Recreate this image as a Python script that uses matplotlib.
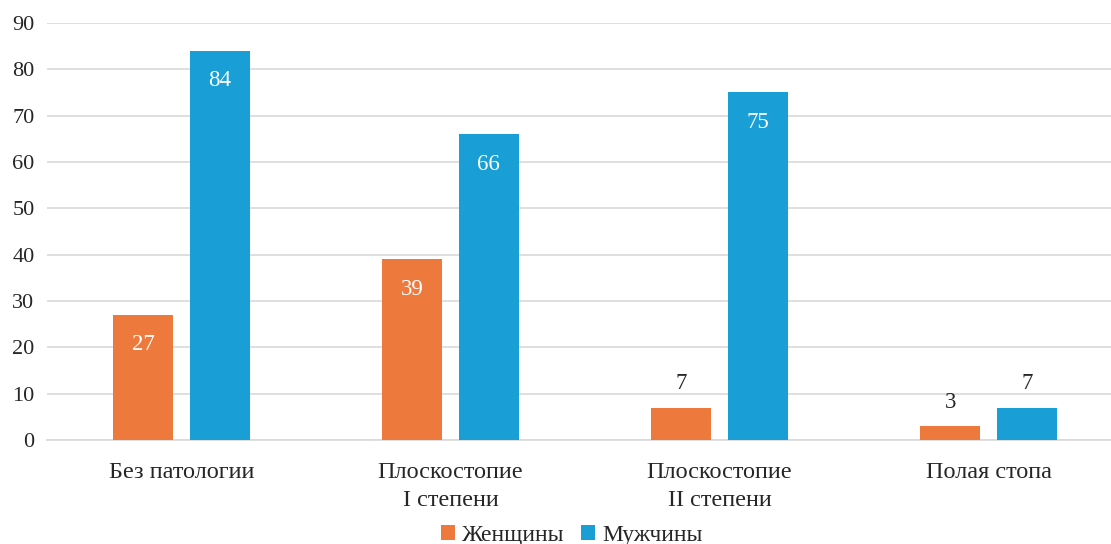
import matplotlib
matplotlib.use("Agg")
import matplotlib.pyplot as plt
import numpy as np

# --- Data ---
categories = ["Без патологии", "Плоскостопие\nI степени", "Плоскостопие\nII степени", "Полая стопа"]
women = [27, 39, 7, 3]
men = [84, 66, 75, 7]
series_names = ["Женщины", "Мужчины"]
colors = ["#ED7A3C", "#199FD6"]

plt.rcParams["font.family"] = ["Liberation Serif", "DejaVu Serif"]

W, H = 1111, 544
fig = plt.figure(figsize=(W / 100, H / 100), dpi=100)
ax = fig.add_axes([47 / W, 104 / H, 1076 / W, 417 / H])

x = np.arange(len(categories))
bw = 0.223
off = 0.142
bars_w = ax.bar(x - off, women, bw, color=colors[0], label=series_names[0], zorder=3)
bars_m = ax.bar(x + off, men, bw, color=colors[1], label=series_names[1], zorder=3)


def label_bars(bars, vals):
    for b, v in zip(bars, vals):
        cx = b.get_x() + b.get_width() / 2
        if v >= 20:
            ax.annotate(str(v), (cx, v), xytext=(0, -30), textcoords="offset pixels",
                        ha="center", va="center", color="white", fontsize=16.5, zorder=4)
        else:
            ax.annotate(str(v), (cx, v), xytext=(0, 24), textcoords="offset pixels",
                        ha="center", va="center", color="#262626", fontsize=16.5, zorder=4)


label_bars(bars_w, women)
label_bars(bars_m, men)

ax.set_xlim(-0.5, len(categories) - 0.5)
ax.set_ylim(0, 90)
ax.set_yticks(range(0, 91, 10))
ax.set_xticks(x)
ax.set_xticklabels(categories, fontsize=17.5, color="#262626", linespacing=1.45)
ax.tick_params(axis="y", labelsize=16, labelcolor="#262626", length=0, pad=9)
ax.tick_params(axis="x", length=0, pad=16)
ax.yaxis.grid(True, color="#D9D9D9", linewidth=1.2, zorder=0)
ax.set_axisbelow(True)
for s in ["top", "right", "left"]:
    ax.spines[s].set_visible(False)
ax.spines["bottom"].set_color("#D9D9D9")
ax.spines["bottom"].set_linewidth(1.2)

fig.legend(loc="center", bbox_to_anchor=(572 / W, 9 / H), ncol=2, frameon=False,
           fontsize=17, handlelength=0.6, handleheight=0.6, handletextpad=0.3,
           columnspacing=0.7, labelcolor="#262626", borderpad=0.1)

fig.savefig("out.png", dpi=100)
